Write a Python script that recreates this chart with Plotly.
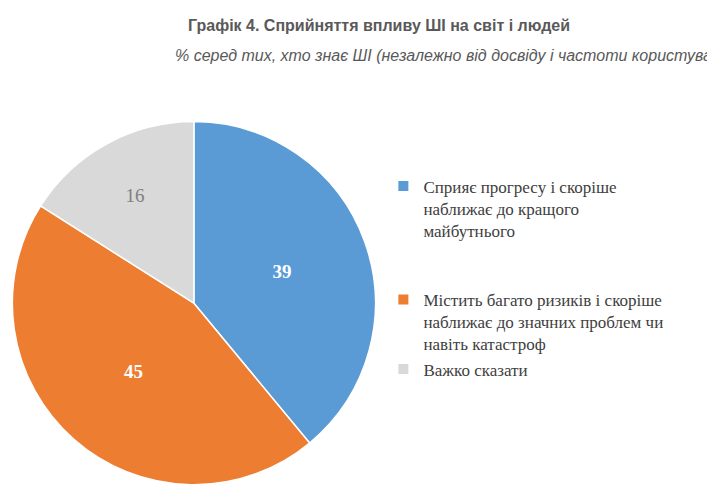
import plotly.graph_objects as go

labels = [
    "Сприяє прогресу і скоріше<br>наближає до кращого<br>майбутнього<br> <br> ",
    "Містить багато ризиків і скоріше<br>наближає до значних проблем чи<br>навіть катастроф",
    "Важко сказати",
]
values = [39, 45, 16]
colors = ["#5b9bd5", "#ed7d31", "#d9d9d9"]
text_colors = ["white", "white", "#7f7f7f"]

fig = go.Figure(
    go.Pie(
        labels=labels,
        values=values,
        sort=False,
        direction="clockwise",
        rotation=0,
        marker={"colors": colors, "line": {"color": "white", "width": 1.5}},
        textinfo="value",
        textposition="inside",
        insidetextorientation="horizontal",
        textfont={"family": "Liberation Serif", "size": 19, "color": text_colors},
        texttemplate=["<b>%{value}</b>", "<b>%{value}</b>", "%{value}"],
        domain={"x": [0.0, 0.52], "y": [0.035, 0.77]},
        hoverinfo="label+percent",
    )
)

fig.add_annotation(
    text="<b>Графік 4. Сприйняття впливу ШІ на світ і людей</b>",
    x=0.519, y=0.985, xref="paper", yref="paper", xanchor="center", yanchor="top",
    showarrow=False,
    font={"family": "Liberation Sans", "size": 16, "color": "#595959"},
)
fig.add_annotation(
    text="<i>% серед тих, хто знає ШІ (незалежно від досвіду і частоти користування)</i>",
    x=0.631, y=0.925, xref="paper", yref="paper", xanchor="center", yanchor="top",
    showarrow=False,
    font={"family": "Liberation Sans", "size": 16, "color": "#595959"},
)

fig.update_layout(
    width=715,
    height=494,
    margin={"l": 0, "r": 0, "t": 0, "b": 0},
    paper_bgcolor="white",
    legend={
        "x": 0.525,
        "y": 0.675,
        "xanchor": "left",
        "yanchor": "top",
        "valign": "top",
        "font": {"family": "Liberation Serif", "size": 17, "color": "#404040"},
        "itemsizing": "constant",
    },
)

fig.write_html("out.html")
